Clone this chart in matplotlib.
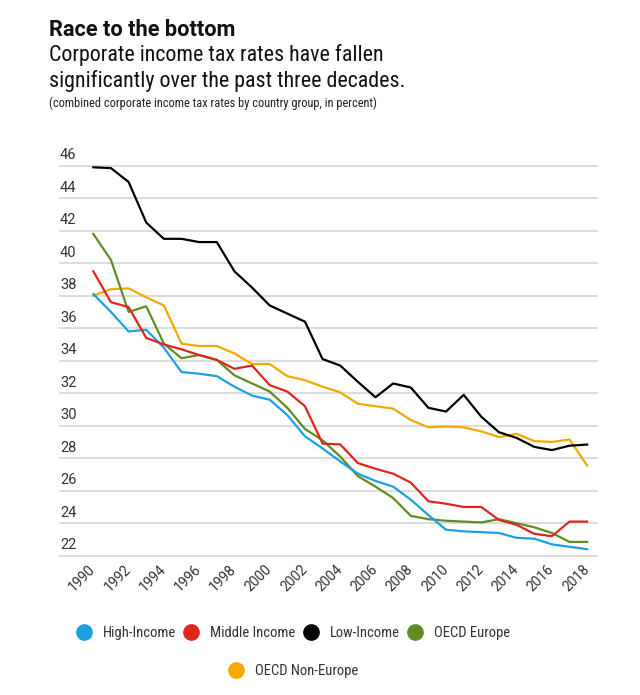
import matplotlib.pyplot as plt
from matplotlib.lines import Line2D

plt.rcParams['font.family'] = ['Roboto', 'DejaVu Sans']
COND = ['Roboto Condensed', 'Roboto', 'DejaVu Sans']

years = list(range(1990, 2019))

high_income = [38.1, 37.0, 35.8, 35.9, 34.8, 33.3, 33.2, 33.05, 32.4, 31.85,
               31.6, 30.65, 29.35, 28.6, 27.8, 27.05, 26.6, 26.25, 25.45, 24.5,
               23.6, 23.5, 23.45, 23.4, 23.1, 23.05, 22.7, 22.55, 22.4]
middle_income = [39.5, 37.6, 37.3, 35.4, 35.0, 34.7, 34.35, 34.05, 33.5, 33.7,
                 32.5, 32.1, 31.2, 28.9, 28.85, 27.7, 27.35, 27.05, 26.5, 25.35,
                 25.2, 25.0, 25.0, 24.2, 23.9, 23.35, 23.2, 24.1, 24.1]
low_income = [45.9, 45.85, 45.0, 42.5, 41.5, 41.5, 41.3, 41.3, 39.5, 38.5,
              37.4, 36.9, 36.4, 34.1, 33.7, 32.7, 31.75, 32.6, 32.35, 31.1,
              30.87, 31.9, 30.55, 29.6, 29.25, 28.7, 28.5, 28.77, 28.84]
oecd_europe = [41.8, 40.2, 37.0, 37.35, 35.05, 34.15, 34.35, 34.05, 33.1, 32.6,
               32.1, 31.1, 29.8, 29.1, 28.1, 26.9, 26.25, 25.55, 24.45, 24.25,
               24.15, 24.1, 24.05, 24.25, 24.0, 23.75, 23.4, 22.85, 22.85]
oecd_non_europe = [38.0, 38.4, 38.45, 37.9, 37.4, 35.05, 34.9, 34.9, 34.45, 33.8,
                   33.8, 33.05, 32.8, 32.4, 32.05, 31.35, 31.2, 31.05, 30.35, 29.9,
                   29.95, 29.9, 29.65, 29.3, 29.5, 29.05, 29.0, 29.15, 27.55]

labels = ['High-Income', 'Middle Income', 'Low-Income', 'OECD Europe', 'OECD Non-Europe']
colors = ['#1ba1e2', '#e0261c', '#000000', '#5e8c25', '#f5a800']
series = [high_income, middle_income, low_income, oecd_europe, oecd_non_europe]

yticks = list(range(22, 47, 2))
xticks = list(range(1990, 2019, 2))

fig = plt.figure(figsize=(6.4, 6.95), dpi=100)
ax = fig.add_axes([0.09375, 0.2004, 0.8391, 0.5612])

# orange at the back, black on top
order = [4, 3, 0, 1, 2]
for i in order:
    ax.plot(years, series[i], color=colors[i], lw=1.6, zorder=3 + order.index(i))

ax.set_xlim(1988.11, 2018.56)
ax.set_ylim(22, 46)
for v in yticks:
    ax.axhline(v, color='#dcdcdc', lw=1.4, zorder=1, clip_on=False)
    ax.annotate(str(v), xy=(0, v), xycoords=('axes fraction', 'data'),
                xytext=(0, 2.5), textcoords='offset points',
                ha='left', va='bottom', fontsize=10.5, color='#333333')

ax.set_yticks([])
ax.set_xticks(xticks)
ax.set_xticklabels([str(x) for x in xticks], rotation=45, ha='right', va='center',
                   rotation_mode='anchor', fontsize=10, color='#333333')
ax.tick_params(axis='x', length=0, pad=8.5)
for s in ax.spines.values():
    s.set_visible(False)

fig.text(0.0766, 0.948, 'Race to the bottom', fontsize=15.7, fontweight='bold',
         va='baseline', color='#111111')
fig.text(0.0766, 0.9125, 'Corporate income tax rates have fallen', fontsize=15.8,
         va='baseline', color='#111111', family=COND)
fig.text(0.0766, 0.8745, 'significantly over the past three decades.', fontsize=15.8,
         va='baseline', color='#111111', family=COND)
fig.text(0.0766, 0.8455, '(combined corporate income tax rates by country group, in percent)',
         fontsize=8.9, va='baseline', color='#222222', family=COND)

handles = [Line2D([], [], ls='none', marker='o', markersize=11, color=c) for c in colors]
leg_kw = dict(frameon=False, handlelength=1.0, handletextpad=0.8, columnspacing=0.55,
              labelcolor='#333333', prop={'family': COND, 'size': 10.5})
fig.legend(handles[:4], labels[:4], loc='center', bbox_to_anchor=(0.458, 1 - 633 / 695),
           ncol=4, **leg_kw)
fig.legend(handles[4:], labels[4:], loc='center', bbox_to_anchor=(0.458, 1 - 671 / 695),
           **leg_kw)

fig.savefig('out.png', dpi=100)
